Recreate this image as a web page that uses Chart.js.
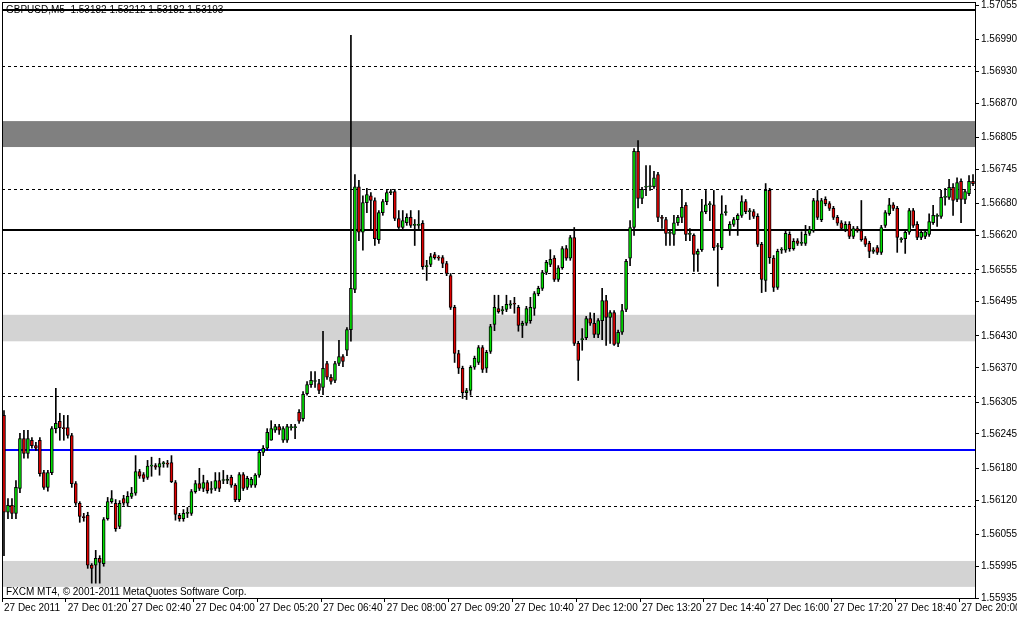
<!DOCTYPE html>
<html>
<head>
<meta charset="utf-8">
<script src="https://cdn.jsdelivr.net/npm/chart.js@4"></script>
<style>
  html, body { margin: 0; padding: 0; background: #fff; }
  #wrap { width: 1017px; height: 618px; }
</style>
</head>
<body>
<div id="wrap"><canvas id="priceChart" width="1017" height="618"></canvas></div>
<script>
// GBPUSD M5 candles, prices as points above 1.56057
var basePrice = 1.56057;
var openPts = [223,40,53,38,85,179,151,176,166,176,115,87,115,198,212,200,200,185,94,57,32,34,-60,-60,-47,-57,28,60,57,13,66,57,70,76,117,111,106,127,128,125,132,132,134,96,34,28,38,38,79,94,85,96,83,85,100,100,100,106,91,64,111,87,91,91,110,153,161,176,195,202,176,176,200,200,229,217,264,281,287,283,276,321,295,289,321,334,346,385,461,655,569,625,638,629,555,606,627,644,646,595,578,587,597,582,582,586,504,508,527,521,521,510,487,427,340,312,266,270,314,323,351,312,344,395,425,421,423,431,434,427,393,397,402,425,453,463,493,508,520,480,502,538,520,559,359,366,370,406,397,376,402,440,408,417,359,380,423,520,578,722,633,654,655,655,678,597,593,567,565,587,597,620,565,563,527,536,608,621,621,542,540,606,574,584,593,601,627,608,608,599,546,478,648,520,465,535,535,565,538,553,548,548,567,572,629,593,631,623,614,597,587,574,584,561,576,572,557,548,533,540,531,582,604,621,614,555,557,569,610,584,559,561,565,587,599,599,635,635,654,631,665,631,642,665];
var highPts = [232,66,66,100,189,195,195,181,172,181,119,119,202,274,227,223,223,189,98,60,38,40,-57,-32,-42,30,68,81,64,62,72,79,87,147,121,115,138,144,132,142,136,138,147,100,38,45,49,83,100,123,110,100,98,115,115,119,110,110,94,115,115,108,106,113,157,166,198,213,206,206,202,206,206,206,234,268,287,306,306,291,382,325,300,325,365,338,389,941,678,667,638,652,644,634,610,631,648,650,650,610,610,604,610,593,610,591,516,529,531,525,525,514,491,431,346,316,274,317,335,355,355,346,395,450,450,429,450,440,446,431,401,429,446,457,467,497,516,536,525,506,542,544,563,578,363,387,410,417,416,406,463,450,421,421,384,433,518,591,727,742,654,695,695,684,682,601,597,572,601,601,648,625,576,566,537,631,648,627,648,548,638,620,589,597,604,638,631,614,612,604,550,661,652,525,537,540,571,570,557,557,570,582,580,633,648,633,636,627,618,601,591,589,589,580,580,629,561,552,540,544,582,610,633,625,618,559,572,614,614,589,572,574,604,620,604,648,652,669,661,672,670,650,676,678];
var lowPts = [-42,28,28,28,77,142,142,161,157,108,83,80,111,190,176,176,180,87,53,21,23,-66,-94,-94,-94,-62,25,57,4,9,53,51,66,72,104,98,102,108,121,110,125,125,96,25,23,23,30,34,76,81,79,76,76,81,79,94,94,87,60,60,81,83,87,87,106,147,157,176,191,187,172,172,195,179,208,212,261,276,276,264,262,291,282,285,317,315,336,363,455,553,535,606,572,544,548,601,621,640,591,576,572,582,578,544,576,499,478,504,518,516,502,487,423,323,302,255,253,261,310,319,304,304,340,383,416,414,419,425,416,382,370,393,397,412,449,459,489,504,476,476,499,516,516,355,289,346,366,393,370,370,366,355,359,355,353,376,419,506,563,615,623,638,648,652,589,576,544,544,544,582,587,553,553,495,495,533,604,591,535,467,536,601,563,580,563,597,604,593,595,542,455,457,510,457,461,529,531,533,535,544,544,544,563,569,593,589,619,610,593,582,572,570,557,557,569,552,542,521,529,527,527,578,601,610,531,550,529,565,578,555,555,557,561,584,580,595,620,631,601,627,587,623,638,657];
var closePts = [40,53,38,87,179,151,179,166,161,113,87,115,198,208,200,198,185,94,57,32,30,-60,-66,-47,-55,26,60,66,9,57,57,70,76,117,108,104,127,128,125,132,132,131,98,36,28,38,40,79,94,85,96,81,83,100,85,100,102,91,64,111,85,104,102,110,153,161,191,198,202,195,198,202,200,200,212,263,281,289,287,270,312,295,287,321,334,325,385,463,655,569,625,640,629,557,606,627,644,646,595,578,591,597,582,582,584,504,506,523,521,520,510,491,427,340,312,266,270,314,331,351,310,342,391,427,419,421,433,434,433,393,397,425,427,453,463,493,512,518,480,502,538,520,559,359,327,366,406,397,376,402,440,408,417,357,380,421,514,578,722,633,650,654,655,672,597,595,567,567,587,597,616,565,565,527,533,608,621,623,540,542,604,608,584,593,601,627,608,610,599,546,480,648,521,465,533,535,567,538,552,548,548,565,574,629,597,629,623,614,597,586,576,584,561,576,572,555,546,533,536,531,578,606,621,614,559,555,569,610,582,559,569,570,589,601,599,635,635,654,629,663,631,646,665,661];

var timeLabels = ['27 Dec 2011', '27 Dec 01:20', '27 Dec 02:40', '27 Dec 04:00', '27 Dec 05:20', '27 Dec 06:40',
  '27 Dec 08:00', '27 Dec 09:20', '27 Dec 10:40', '27 Dec 12:00', '27 Dec 13:20', '27 Dec 14:40',
  '27 Dec 16:00', '27 Dec 17:20', '27 Dec 18:40', '27 Dec 20:00'];
var priceTicks = [1.55935, 1.55995, 1.56055, 1.56120, 1.56180, 1.56245, 1.56305, 1.56370, 1.56430, 1.56495,
  1.56555, 1.56620, 1.56680, 1.56745, 1.56805, 1.56870, 1.56930, 1.56990, 1.57055];
var dashedLevels = [1.56940, 1.56708, 1.56549, 1.56317, 1.56109];
var grayZones = [[1.56787, 1.56836, '#808080'], [1.56420, 1.56470, '#d3d3d3'], [1.55956, 1.56005, '#d3d3d3']];
var pivotLevel = 1.56630;
var blueLevel = 1.56215;
var topLevel = 1.57046;

function toPrice(p) { return +(basePrice + p / 100000).toFixed(5); }
var barIdx = openPts.map(function (v, i) { return String(i); });
var bodies = openPts.map(function (o, i) { return [toPrice(o), toPrice(closePts[i])]; });
var wicks = lowPts.map(function (l, i) { return [toPrice(l), toPrice(highPts[i])]; });

var FONT = { family: 'Liberation Sans', size: 10 };

var overlay = {
  id: 'overlay',
  beforeDatasetsDraw: function (chart) {
    var ctx = chart.ctx, a = chart.chartArea, ys = chart.scales.y;
    ctx.save();
    grayZones.forEach(function (z) {
      var y1 = ys.getPixelForValue(z[1]), y0 = ys.getPixelForValue(z[0]);
      ctx.fillStyle = z[2];
      ctx.fillRect(a.left, y1, a.right - a.left, y0 - y1);
    });
    ctx.strokeStyle = '#000';
    ctx.lineWidth = 1;
    ctx.setLineDash([3, 3]);
    dashedLevels.forEach(function (v) {
      var y = Math.round(ys.getPixelForValue(v)) + 0.5;
      ctx.beginPath(); ctx.moveTo(a.left, y); ctx.lineTo(a.right, y); ctx.stroke();
    });
    ctx.setLineDash([]);
    ctx.lineWidth = 2;
    [[pivotLevel, '#000'], [blueLevel, '#0000ff'], [topLevel, '#000']].forEach(function (l) {
      var y = Math.round(ys.getPixelForValue(l[0]));
      ctx.strokeStyle = l[1];
      ctx.beginPath(); ctx.moveTo(a.left, y); ctx.lineTo(a.right, y); ctx.stroke();
    });
    ctx.restore();
  },
  afterDraw: function (chart) {
    var ctx = chart.ctx, a = chart.chartArea;
    ctx.save();
    ctx.strokeStyle = '#000';
    ctx.lineWidth = 1;
    ctx.strokeRect(a.left + 0.5, a.top + 0.5, a.right - a.left, a.bottom - a.top);
    ctx.fillStyle = '#000';
    ctx.font = '10px "Liberation Sans"';
    ctx.textBaseline = 'middle';
    ctx.fillText('GBPUSD,M5  1.53182 1.53212 1.53182 1.53193', a.left + 4, 10);
    ctx.fillText('FXCM MT4, \u00a9 2001-2011 MetaQuotes Software Corp.', a.left + 4, 592);
    ctx.restore();
  }
};

new Chart(document.getElementById('priceChart').getContext('2d'), {
  type: 'bar',
  data: {
    labels: barIdx,
    datasets: [{
      label: 'wick',
      data: wicks,
      backgroundColor: '#000',
      barThickness: 1,
      grouped: false,
      order: 2
    }, {
      label: 'body',
      data: bodies,
      backgroundColor: function (c) {
        var d = bodies[c.dataIndex];
        return d && d[1] >= d[0] ? '#00e000' : '#e00000';
      },
      borderColor: '#000',
      borderWidth: 1,
      borderSkipped: false,
      barThickness: 3,
      minBarLength: 1,
      grouped: false,
      order: 1
    }]
  },
  plugins: [overlay],
  options: {
    responsive: false,
    animation: false,
    events: [],
    layout: { padding: { left: 2, top: 2, right: 0, bottom: 0 } },
    plugins: { legend: { display: false }, tooltip: { enabled: false } },
    scales: {
      x: {
        offset: true,
        afterFit: function (s) { s.height = 20; },
        grid: {
          drawOnChartArea: false,
          tickLength: 4,
          color: function (c) { return c.index % 16 === 0 ? '#000' : 'rgba(0,0,0,0)'; }
        },
        border: { display: false },
        ticks: {
          autoSkip: false,
          maxRotation: 0,
          align: 'start',
          padding: 0,
          color: '#000',
          font: FONT,
          callback: function (v, i) { return i % 16 === 0 ? timeLabels[i / 16] : ''; }
        }
      },
      y: {
        position: 'right',
        min: 1.55935,
        max: 1.57061,
        afterBuildTicks: function (s) { s.ticks = priceTicks.map(function (v) { return { value: v }; }); },
        afterFit: function (s) { s.width = 42; s.paddingTop = 0; s.paddingBottom = 0; },
        grid: { drawOnChartArea: false, tickLength: 4, color: '#000' },
        border: { display: false },
        ticks: {
          padding: 2,
          color: '#000',
          font: FONT,
          callback: function (v) { return v.toFixed(5); }
        }
      }
    }
  }
});
</script>
</body>
</html>
